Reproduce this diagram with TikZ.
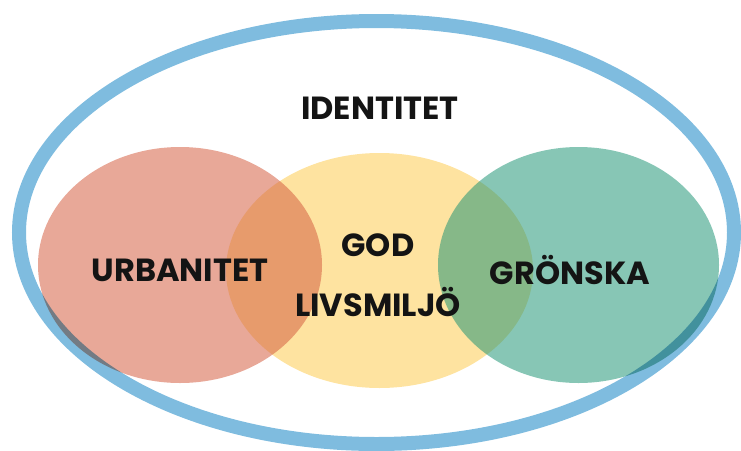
\documentclass[tikz,border=0pt]{standalone}
\usepackage{fontspec}
\setmainfont{Poppins}
\usetikzlibrary{shapes.geometric}

\definecolor{urbred}{RGB}{213,96,67}
\definecolor{godyellow}{HTML}{FEE3A0}
\definecolor{gronteal}{RGB}{28,147,115}
\definecolor{ringblue}{HTML}{7FBCDF}

\begin{document}
\begin{tikzpicture}[x=1pt, y=-1pt,
  blob/.style={ellipse, inner sep=0pt, outer sep=0pt},
  lbl/.style={font=\bfseries\fontsize{32}{34}\selectfont, text=black!92}]
\useasboundingbox (0,0) rectangle (741,450);

% three overlapping areas
\node[blob, fill=godyellow, minimum width=307pt, minimum height=235pt] (livsmiljo) at (379.5,270.5) {};
\node[blob, fill=urbred, fill opacity=0.55, minimum width=284pt, minimum height=236pt] (urbanitet) at (180,265) {};
\node[blob, fill=gronteal, fill opacity=0.53, minimum width=281pt, minimum height=236pt] (gronska) at (578.5,265) {};

% outer ring
\begin{scope}[blend mode=multiply]
\node[blob, draw=ringblue, line width=14pt, minimum width=715pt, minimum height=423pt] (identitet) at (376.5,232.5) {};
\end{scope}

% labels
\node[lbl] (tidentitet) at (380,108) {IDENTITET};
\node[lbl] (turbanitet) at (180,270) {URBANITET};
\node[lbl] (tgod) at (378,245) {GOD};
\node[lbl] (tlivsmiljo) at (378,302) {LIVSMILJÖ};
\node[lbl] (tgronska) at (570,270) {GRÖNSKA};
\end{tikzpicture}
\end{document}
